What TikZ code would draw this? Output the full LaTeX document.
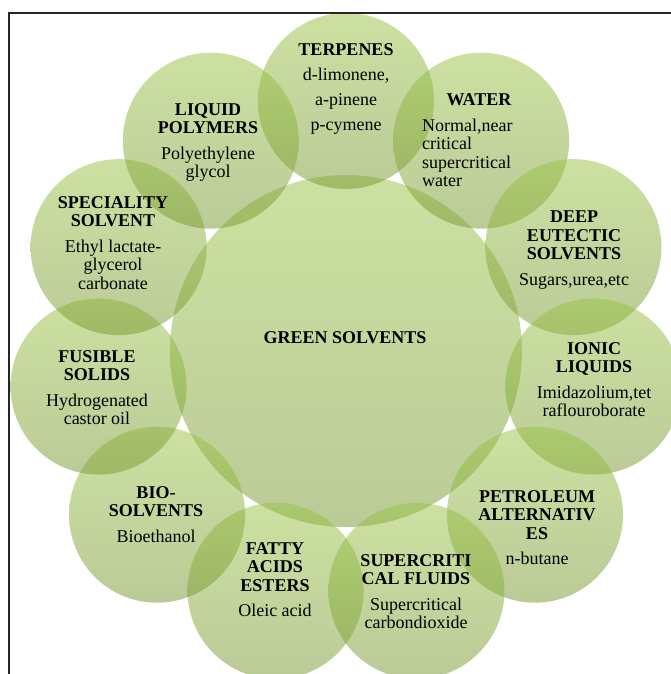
\documentclass[tikz,border=0pt]{standalone}
\usepackage{fontspec}
\setmainfont{Liberation Serif}
\usepackage{tikz}
\usetikzlibrary{shapes,positioning,calc}
\definecolor{leaftop}{RGB}{153,195,67}
\definecolor{leafbot}{RGB}{119,151,49}
\tikzset{
  bubble/.style={circle, draw=none, top color=leaftop, bottom color=leafbot, fill opacity=0.5, inner sep=0pt},
  hub/.style={bubble, minimum size=352pt},
  petal/.style={bubble, minimum size=176pt},
  lbl/.style={anchor=north, inner sep=0pt, align=center, font=\fontsize{18}{18.5}\selectfont}
}

\begin{document}
\begin{tikzpicture}[x=1pt,y=1pt]
\useasboundingbox (0,0) rectangle (671,674);
\clip (0,0) rectangle (671,674);

\node[hub] (hub) at (346,323) {};
\foreach \name [count=\k from 0] in {terp,water,deep,ionic,petro,scf,fatty,bio,fusible,special,liquid}
  \node[petal] (\name) at ($(346,323)+({90-\k*360/11}:250)$) {};

\draw[line width=2pt, black!85] (8.5,0) -- (8.5,661) -- (671,661);

\node[lbl] (hubtext) at (345,343) {\textbf{GREEN SOLVENTS}};
\node[lbl] (terptext) at (346,631) {\textbf{TERPENES}\\[6.5pt] d-limonene,\\[6.5pt] a-pinene\\[6.5pt] p-cymene};
\node[lbl] (watertitle) at (479,581) {\textbf{WATER}};
\node[lbl, anchor=north west, align=left] (waterbody) at (422,555.5) {Normal,near\\ critical\\ supercritical\\ water};
\node[lbl] (deeptext) at (574,463) {\textbf{DEEP}\\ \textbf{EUTECTIC}\\ \textbf{SOLVENTS}\\[7pt] Sugars,urea,etc};
\node[lbl] (ionictext) at (594,332) {\textbf{IONIC}\\ \textbf{LIQUIDS}\\[7pt] Imidazolium,tet\\ raflouroborate};
\node[lbl] (petrotext) at (537,184) {\textbf{PETROLEUM}\\ \textbf{ALTERNATIV}\\ \textbf{ES}\\[7pt] n-butane};
\node[lbl] (scftext) at (416,120) {\textbf{SUPERCRITI}\\ \textbf{CAL FLUIDS}\\[7pt] Supercritical\\ carbondioxide};
\node[lbl] (fattytext) at (275,132) {\textbf{FATTY}\\ \textbf{ACIDS}\\ \textbf{ESTERS}\\[7pt] Oleic acid};
\node[lbl] (biotext) at (156,188) {\textbf{BIO-}\\ \textbf{SOLVENTS}\\[7pt] Bioethanol};
\node[lbl] (fusibletext) at (97,324) {\textbf{FUSIBLE}\\ \textbf{SOLIDS}\\[7pt] Hydrogenated\\ castor oil};
\node[lbl] (specialtext) at (113,478) {\textbf{SPECIALITY}\\ \textbf{SOLVENT}\\[7pt] Ethyl lactate-\\ glycerol\\ carbonate};
\node[lbl] (liquidtext) at (208,571) {\textbf{LIQUID}\\ \textbf{POLYMERS}\\[7pt] Polyethylene\\ glycol};
\end{tikzpicture}
\end{document}
